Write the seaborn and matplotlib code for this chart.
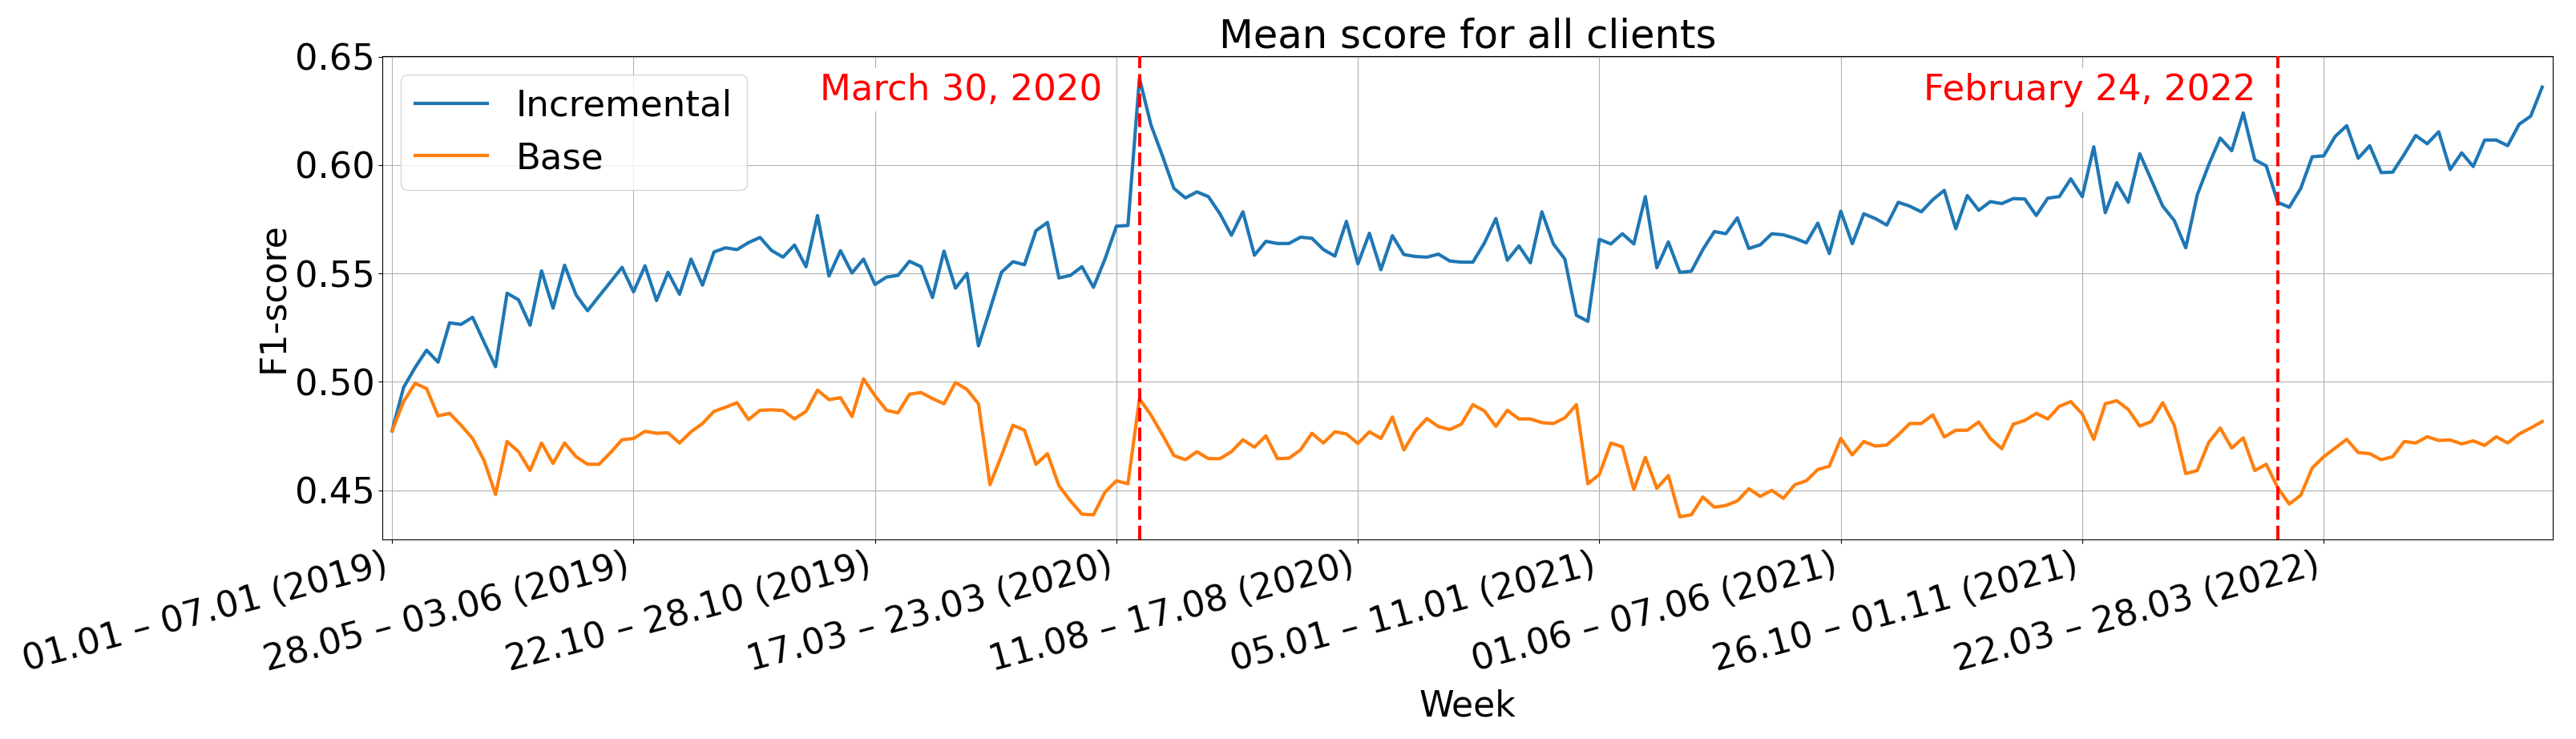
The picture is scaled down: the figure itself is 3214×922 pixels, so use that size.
import matplotlib
matplotlib.use("Agg")
import matplotlib.pyplot as plt
from matplotlib.lines import Line2D
import numpy as np
import pandas as pd
import seaborn as sns

# ---------------- data ----------------
incremental = [
    0.4774, 0.4974, 0.5066, 0.5146, 0.5091, 0.5272, 0.5265, 0.5298, 0.5183, 0.5070,
    0.5409, 0.5378, 0.5261, 0.5512, 0.5340, 0.5538, 0.5401, 0.5328, 0.5395, 0.5461,
    0.5528, 0.5415, 0.5535, 0.5375, 0.5505, 0.5404, 0.5566, 0.5446, 0.5599, 0.5618,
    0.5610, 0.5642, 0.5666, 0.5606, 0.5575, 0.5631, 0.5531, 0.5767, 0.5488, 0.5605,
    0.5502, 0.5566, 0.5449, 0.5483, 0.5491, 0.5556, 0.5531, 0.5389, 0.5603, 0.5432,
    0.5500, 0.5166, 0.5334, 0.5505, 0.5554, 0.5540, 0.5697, 0.5735, 0.5479, 0.5491,
    0.5531, 0.5436, 0.5566, 0.5718, 0.5721, 0.6400, 0.6185, 0.6042, 0.5892, 0.5848,
    0.5876, 0.5854, 0.5775, 0.5676, 0.5784, 0.5584, 0.5648, 0.5638, 0.5638, 0.5667,
    0.5662, 0.5610, 0.5580, 0.5740, 0.5544, 0.5685, 0.5517, 0.5674, 0.5587, 0.5578,
    0.5575, 0.5589, 0.5557, 0.5552, 0.5552, 0.5640, 0.5753, 0.5561, 0.5627, 0.5549,
    0.5784, 0.5636, 0.5566, 0.5307, 0.5279, 0.5657, 0.5636, 0.5683, 0.5636, 0.5854,
    0.5526, 0.5645, 0.5505, 0.5510, 0.5610, 0.5693, 0.5683, 0.5756, 0.5615, 0.5632,
    0.5683, 0.5678, 0.5662, 0.5641, 0.5732, 0.5592, 0.5787, 0.5637, 0.5775, 0.5753,
    0.5723, 0.5828, 0.5810, 0.5784, 0.5840, 0.5883, 0.5706, 0.5859, 0.5791, 0.5831,
    0.5822, 0.5845, 0.5843, 0.5767, 0.5847, 0.5854, 0.5936, 0.5854, 0.6084, 0.5780,
    0.5918, 0.5828, 0.6052, 0.5932, 0.5810, 0.5744, 0.5618, 0.5862, 0.6001, 0.6124,
    0.6066, 0.6240, 0.6024, 0.5996, 0.5828, 0.5805, 0.5892, 0.6038, 0.6042, 0.6132,
    0.6181, 0.6031, 0.6089, 0.5965, 0.5967, 0.6049, 0.6136, 0.6098, 0.6153, 0.5979,
    0.6056, 0.5993, 0.6115, 0.6115, 0.6089, 0.6188, 0.6225, 0.6359,
]

base = [
    0.4774, 0.4909, 0.4993, 0.4969, 0.4843, 0.4855, 0.4800, 0.4739, 0.4638, 0.4481,
    0.4725, 0.4678, 0.4591, 0.4718, 0.4624, 0.4718, 0.4655, 0.4620, 0.4620, 0.4674,
    0.4733, 0.4739, 0.4772, 0.4763, 0.4765, 0.4718, 0.4770, 0.4808, 0.4864, 0.4883,
    0.4904, 0.4826, 0.4869, 0.4871, 0.4868, 0.4829, 0.4864, 0.4962, 0.4918, 0.4927,
    0.4840, 0.5014, 0.4936, 0.4869, 0.4857, 0.4943, 0.4951, 0.4923, 0.4899, 0.4997,
    0.4965, 0.4899, 0.4526, 0.4660, 0.4800, 0.4777, 0.4620, 0.4669, 0.4521, 0.4451,
    0.4390, 0.4387, 0.4491, 0.4544, 0.4530, 0.4922, 0.4847, 0.4756, 0.4660, 0.4641,
    0.4678, 0.4646, 0.4646, 0.4678, 0.4733, 0.4699, 0.4751, 0.4646, 0.4648, 0.4686,
    0.4763, 0.4718, 0.4770, 0.4760, 0.4716, 0.4770, 0.4739, 0.4838, 0.4686, 0.4774,
    0.4831, 0.4794, 0.4780, 0.4805, 0.4895, 0.4866, 0.4795, 0.4869, 0.4829, 0.4829,
    0.4812, 0.4808, 0.4834, 0.4895, 0.4530, 0.4573, 0.4718, 0.4700, 0.4503, 0.4652,
    0.4509, 0.4568, 0.4378, 0.4387, 0.4469, 0.4422, 0.4430, 0.4451, 0.4507, 0.4472,
    0.4500, 0.4463, 0.4526, 0.4544, 0.4596, 0.4611, 0.4739, 0.4663, 0.4725, 0.4704,
    0.4709, 0.4756, 0.4808, 0.4808, 0.4848, 0.4746, 0.4777, 0.4777, 0.4815, 0.4739,
    0.4692, 0.4805, 0.4822, 0.4855, 0.4829, 0.4887, 0.4909, 0.4852, 0.4735, 0.4899,
    0.4913, 0.4873, 0.4796, 0.4817, 0.4904, 0.4800, 0.4577, 0.4591, 0.4721, 0.4787,
    0.4695, 0.4742, 0.4591, 0.4620, 0.4512, 0.4437, 0.4477, 0.4603, 0.4655, 0.4695,
    0.4735, 0.4674, 0.4669, 0.4641, 0.4655, 0.4725, 0.4718, 0.4747, 0.4730, 0.4732,
    0.4714, 0.4728, 0.4707, 0.4747, 0.4718, 0.4760, 0.4787, 0.4817,
]

series_names = ["Incremental", "Base"]

tick_labels = [
    "01.01 \u2013 07.01 (2019)",
    "28.05 \u2013 03.06 (2019)",
    "22.10 \u2013 28.10 (2019)",
    "17.03 \u2013 23.03 (2020)",
    "11.08 \u2013 17.08 (2020)",
    "05.01 \u2013 11.01 (2021)",
    "01.06 \u2013 07.06 (2021)",
    "26.10 \u2013 01.11 (2021)",
    "22.03 \u2013 28.03 (2022)",
]
tick_every = 21

event_weeks = [65, 164]
event_labels = ["March 30, 2020", "February 24, 2022"]

title = "Mean score for all clients"
xlabel = "Week"
ylabel = "F1-score"

# ---------------- figure ----------------
W, H = 3214, 922
fig = plt.figure(figsize=(W / 100, H / 100), dpi=100)
ax = fig.add_axes([477 / W, 1 - 672.6 / H, (3185 - 477) / W, (672.6 - 70) / H])

week_idx = np.arange(len(incremental))
df = pd.DataFrame({
    "week": np.concatenate([week_idx, week_idx]),
    "score": np.concatenate([incremental, base]),
    "model": [series_names[0]] * len(incremental) + [series_names[1]] * len(base),
})

colors = ["#1f77b4", "#ff7f0e"]
lw = 3.0
sns.lineplot(data=df, x="week", y="score", hue="model", hue_order=series_names,
             palette=colors, linewidth=lw, ax=ax, legend=False)

for w in event_weeks:
    ax.axvline(w, color="red", linestyle=(0, (4.4, 1.9)), linewidth=2.8, zorder=3)

text_offsets = [-3.2, -1.9]
for w, lab, off in zip(event_weeks, event_labels, text_offsets):
    ax.text(w + off, 0.63, lab, color="red", fontsize=32.4, ha="right", va="baseline",
            bbox=dict(facecolor="white", edgecolor="none", pad=4), zorder=4)

ax.set_xlim(-0.85, 187.92)
ax.set_ylim(0.4275, 0.6502)
ax.set_yticks([0.45, 0.50, 0.55, 0.60, 0.65])
ax.set_yticklabels(["0.45", "0.50", "0.55", "0.60", "0.65"])
ax.set_xticks(np.arange(0, len(tick_labels) * tick_every, tick_every))
ax.set_xticklabels(tick_labels, rotation=15, ha="right")
ax.tick_params(axis="both", labelsize=32.2)
ax.grid(True, color="#b0b0b0", linewidth=0.8)

ax.set_title(title, fontsize=35.7)
ax.set_xlabel(xlabel, fontsize=31.8, labelpad=10)
ax.set_ylabel(ylabel, fontsize=31.8)

handles = [Line2D([], [], color=c, linewidth=lw) for c in colors]
ax.legend(handles, series_names, loc="upper left", fontsize=32.4)

fig.savefig("out.png", dpi=100)
